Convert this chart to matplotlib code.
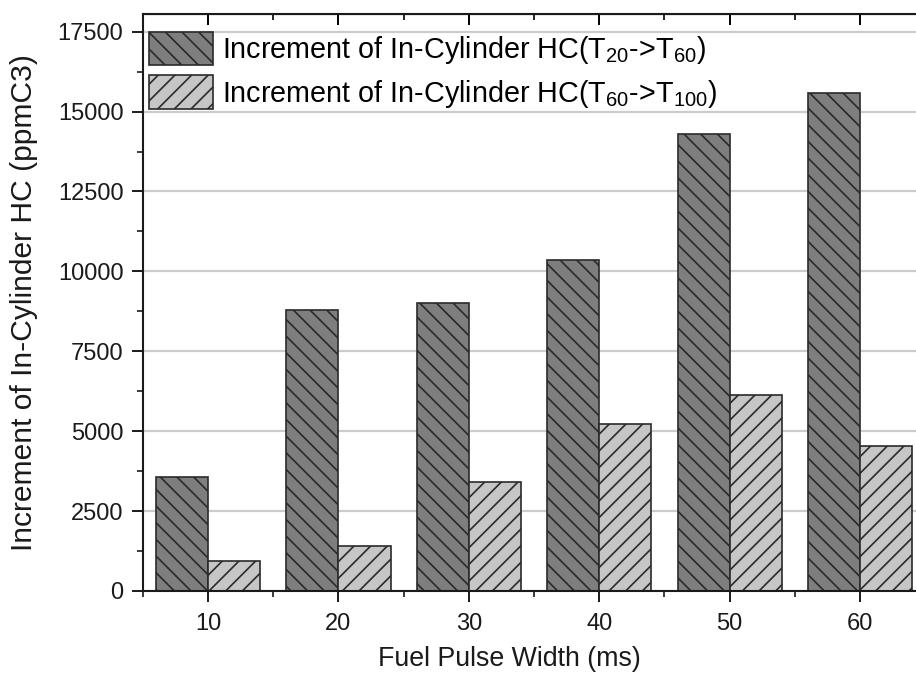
import matplotlib
matplotlib.use("Agg")
import matplotlib.pyplot as plt
import numpy as np
from matplotlib.ticker import MultipleLocator

plt.rcParams['font.family'] = ['Liberation Sans', 'DejaVu Sans']
plt.rcParams['mathtext.default'] = 'regular'
plt.rcParams['hatch.color'] = '#3a3a3a'
plt.rcParams['hatch.linewidth'] = 1.2

# data
pulse_width = [10, 20, 30, 40, 50, 60]
hc_20_60 = [3580, 8800, 9000, 10350, 14300, 15570]
hc_60_100 = [940, 1420, 3420, 5220, 6140, 4520]
labels = [r'Increment of In-Cylinder HC(T$_{20}$->T$_{60}$)',
          r'Increment of In-Cylinder HC(T$_{60}$->T$_{100}$)']

fig = plt.figure(figsize=(9.16, 6.73), dpi=100)
ax = fig.add_axes([0.156, 0.122, 0.847, 0.857])

x = np.array(pulse_width)
w = 4.0
ax.bar(x - w / 2, hc_20_60, width=w, color='#7e7e7e', edgecolor='#2a2a2a',
       linewidth=1.2, hatch='\\\\', label=labels[0], zorder=2)
ax.bar(x + w / 2, hc_60_100, width=w, color='#c6c6c6', edgecolor='#2a2a2a',
       linewidth=1.2, hatch='//', label=labels[1], zorder=2)

ax.set_xlim(5, 64.5)
ax.set_ylim(0, 18050)
ax.set_xticks(pulse_width)
ax.xaxis.set_minor_locator(MultipleLocator(5))
ax.set_yticks(np.arange(0, 17501, 2500))
ax.yaxis.set_minor_locator(MultipleLocator(1250))
ax.yaxis.grid(True, color='#cccccc', linewidth=1.6, zorder=0)
ax.set_axisbelow(True)

for s in ax.spines.values():
    s.set_linewidth(1.5)
    s.set_color('#1a1a1a')

ax.tick_params(axis='both', which='major', length=8, width=1.4,
               labelsize=17, direction='out', colors='#1a1a1a')
ax.tick_params(axis='both', which='minor', length=4.5, width=1.2,
               direction='out', colors='#1a1a1a')
ax.tick_params(axis='x', which='major', pad=8)
ax.tick_params(axis='y', which='major', pad=6)

# top and right ticks point inward
ax2 = ax.secondary_xaxis('top')
ax2.set_xticks(pulse_width)
ax2.xaxis.set_minor_locator(MultipleLocator(5))
ax2.tick_params(which='major', direction='in', length=8, width=1.4, labeltop=False)
ax2.tick_params(which='minor', direction='in', length=4.5, width=1.2)
ax3 = ax.secondary_yaxis('right')
ax3.set_yticks(np.arange(0, 17501, 2500))
ax3.tick_params(which='major', direction='in', length=8, width=1.4, labelright=False)

ax.set_xlabel('Fuel Pulse Width (ms)', fontsize=19.3, color='#1a1a1a')
ax.xaxis.set_label_coords(0.472, -0.095)
ax.set_ylabel('Increment of In-Cylinder HC (ppmC3)', fontsize=21.6, color='#1a1a1a', labelpad=14)

ax.legend(loc='upper left', bbox_to_anchor=(-0.002, 0.982), frameon=False,
          fontsize=20.7, handlelength=2.25, handleheight=1.4, labelspacing=0.33,
          handletextpad=0.3, borderaxespad=0.0, borderpad=0.25)

fig.savefig('out.png', dpi=100)
